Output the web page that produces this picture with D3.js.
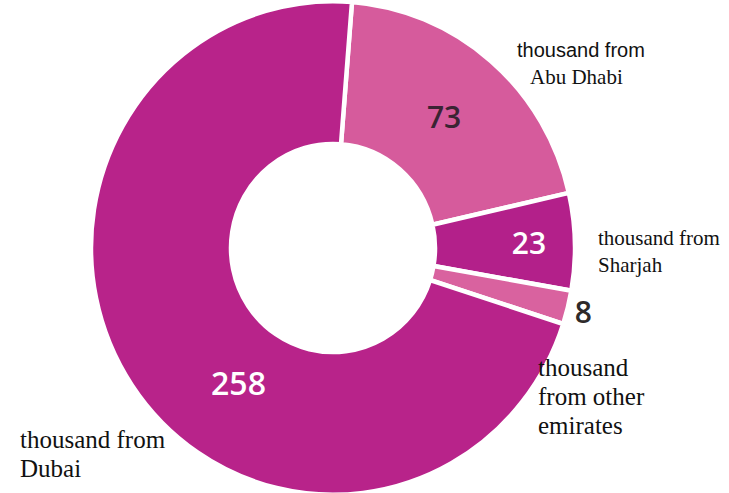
<!DOCTYPE html>
<html>
<head>
<meta charset="utf-8">
<script src="https://cdn.jsdelivr.net/npm/d3@7"></script>
<style>
  html, body { margin: 0; padding: 0; background: #ffffff; }
  svg { display: block; }
</style>
</head>
<body>
<svg id="chart" width="729" height="493"></svg>
<script>
// ---- data ----
const categories = ["Dubai", "Abu Dhabi", "Sharjah", "other emirates"];
const values = [258, 73, 23, 8];
const valueLabels = ["258", "73", "23", "8"];
const categoryLabels = [
  ["thousand from", "Dubai"],
  ["thousand from", "Abu Dhabi"],
  ["thousand from", "Sharjah"],
  ["thousand", "from other", "emirates"]
];

// ---- style / layout ----
const W = 729, H = 493;
const cx = 333, cy = 248;
const rOuter = 242, rInner = 102, yStretch = 1.02;
const colors = ["#b8238a", "#d65b9c", "#b3208a", "#d9629f"];
const valueColors = ["#ffffff", "#3a2433", "#ffffff", "#2e2a2a"];
const startOffset = 4.5 * Math.PI / 180;

const svg = d3.select("#chart");

// order slices clockwise: Abu Dhabi, Sharjah, other, then Dubai
const order = [1, 2, 3, 0];
const pie = d3.pie()
  .sort(null)
  .value(i => values[i])
  .startAngle(startOffset)
  .endAngle(startOffset + 2 * Math.PI);
const arcs = pie(order);

const arc = d3.arc().innerRadius(rInner).outerRadius(rOuter);

const g = svg.append("g")
  .attr("transform", `translate(${cx},${cy}) scale(1,${yStretch})`);

g.selectAll("path")
  .data(arcs)
  .join("path")
  .attr("d", arc)
  .attr("fill", d => colors[d.data])
  .attr("stroke", "#ffffff")
  .attr("stroke-width", 4.5)
  .attr("stroke-linejoin", "miter");

// value labels: position along each slice (fraction of angle span, radius)
const valuePlace = {
  0: { frac: 0.42, r: 162, size: 32 },
  1: { frac: 0.5, r: 170, size: 30 },
  2: { frac: 0.5, r: 196, size: 30 },
  3: { frac: 0.5, r: 258, size: 30 }
};
const valueG = svg.append("g").attr("transform", `translate(${cx},${cy})`);
arcs.forEach(d => {
  const p = valuePlace[d.data];
  const a = d.startAngle + (d.endAngle - d.startAngle) * p.frac;
  const x = p.r * Math.sin(a);
  const y = -p.r * Math.cos(a) * yStretch;
  valueG.append("text")
    .attr("x", x)
    .attr("y", y)
    .attr("text-anchor", "middle")
    .attr("dominant-baseline", "central")
    .attr("font-family", "'Open Sans', 'Noto Sans', sans-serif")
    .attr("font-weight", 600)
    .attr("font-size", p.size)
    .attr("fill", valueColors[d.data])
    .text(valueLabels[d.data]);
});

// category labels (text blocks beside the ring)
const labelPlace = {
  0: { x: 20, y: 448, lh: 29, size: 25, fonts: ["serif", "serif"], dx: [0, 0] },
  1: { x: 517, y: 57, lh: 27, size: 20, fonts: ["sans", "serif"], dx: [0, 13] },
  2: { x: 598, y: 245, lh: 27, size: 21, fonts: ["serif", "serif"], dx: [0, 0] },
  3: { x: 538, y: 376, lh: 29, size: 25, fonts: ["serif", "serif", "serif"], dx: [0, 0, 0] }
};
const fam = { sans: "'Liberation Sans', Arial, sans-serif", serif: "'Liberation Serif', 'Times New Roman', serif" };
categories.forEach((c, i) => {
  const p = labelPlace[i];
  categoryLabels[i].forEach((line, j) => {
    svg.append("text")
      .attr("x", p.x + p.dx[j])
      .attr("y", p.y + j * p.lh)
      .attr("font-family", fam[p.fonts[j]])
      .attr("font-size", p.fonts[j] === "sans" ? p.size : (i === 1 ? 21 : p.size))
      .attr("fill", "#111111")
      .text(line);
  });
});
</script>
</body>
</html>
